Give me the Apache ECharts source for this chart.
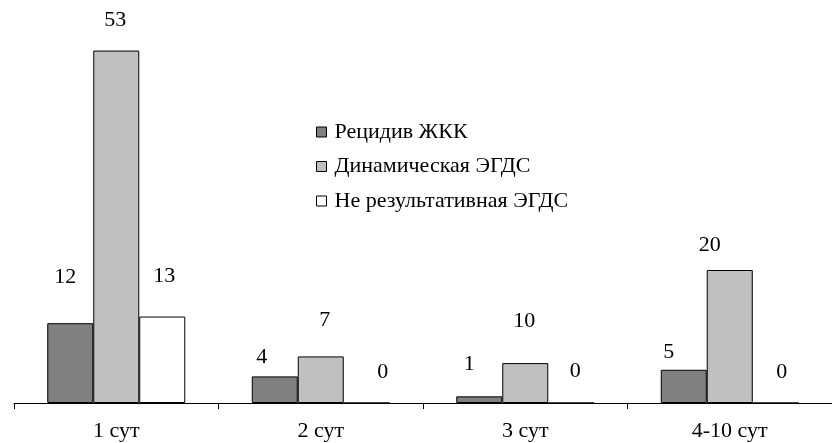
<!DOCTYPE html>
<html>
<head>
<meta charset="utf-8">
<script src="https://cdn.jsdelivr.net/npm/echarts@6/dist/echarts.min.js"></script>
<style>html,body{margin:0;padding:0;background:#fff}#c{width:832px;height:443px}</style>
</head>
<body>
<div id="c"></div>
<script>
var categories = ['1 сут', '2 сут', '3 сут', '4-10 сут'];
var seriesNames = ['Рецидив ЖКК', 'Динамическая ЭГДС', 'Не результативная ЭГДС'];
// bar heights as drawn
var relapseValues = [12, 4, 1, 5];
var dynamicValues = [53, 7, 6, 20];
var failedValues = [13, 0, 0, 0];
// printed value labels
var relapseLabels = ['12', '4', '1', '5'];
var dynamicLabels = ['53', '7', '10', '20'];
var failedLabels = ['13', '0', '0', '0'];

// label placement tweaks (style only): [dx, height of label centre above bar top]
var relapseNudge = [[-5, 46], [-13, 19], [-10, 32], [-15, 18]];
var dynamicNudge = [[-1, 30], [4, 36], [-1, 42], [-20, 25]];
var failedNudge = [[2, 40], [16, 30], [4, 31], [6, 30]];

var FONT = 'Liberation Serif';
var FS = 22;

function build(values, labels, nudge) {
  return values.map(function (v, i) {
    return {
      value: v,
      label: {
        formatter: labels[i],
        offset: [nudge[i][0], -nudge[i][1]]
      }
    };
  });
}

var colors = ['#808080', '#c0c0c0', '#ffffff'];
var datas = [
  build(relapseValues, relapseLabels, relapseNudge),
  build(dynamicValues, dynamicLabels, dynamicNudge),
  build(failedValues, failedLabels, failedNudge)
];

var chart = echarts.init(document.getElementById('c'), null, {renderer: 'canvas'});
chart.setOption({
  animation: false,
  backgroundColor: '#ffffff',
  textStyle: {fontFamily: FONT, color: '#000'},
  grid: {left: 14, right: 0, top: 4, bottom: 40, containLabel: false},
  legend: {
    orient: 'vertical',
    left: 311,
    top: 116,
    itemWidth: 10,
    itemHeight: 10,
    itemGap: 12.5,
    icon: 'rect',
    selectedMode: false,
    itemStyle: {borderColor: '#000', borderWidth: 1},
    textStyle: {fontFamily: FONT, fontSize: FS, color: '#000', lineHeight: 22, padding: [0, 0, 0, 3]},
    data: seriesNames
  },
  xAxis: {
    type: 'category',
    data: categories,
    axisLine: {lineStyle: {color: '#000', width: 1}},
    axisTick: {show: true, length: 6, lineStyle: {color: '#000'}, alignWithLabel: false},
    axisLabel: {fontFamily: FONT, fontSize: FS, color: '#000', margin: 17}
  },
  yAxis: {type: 'value', min: 0, max: 60, show: false, splitLine: {show: false}},
  series: seriesNames.map(function (name, k) {
    return {
      name: name,
      type: 'bar',
      barWidth: 46,
      barGap: '0%',
      data: datas[k],
      itemStyle: {color: colors[k], borderColor: '#000', borderWidth: 1},
      label: {
        show: true,
        position: 'top',
        distance: 0,
        verticalAlign: 'middle',
        fontFamily: FONT,
        fontSize: FS,
        color: '#000'
      }
    };
  })
});
</script>
</body>
</html>
